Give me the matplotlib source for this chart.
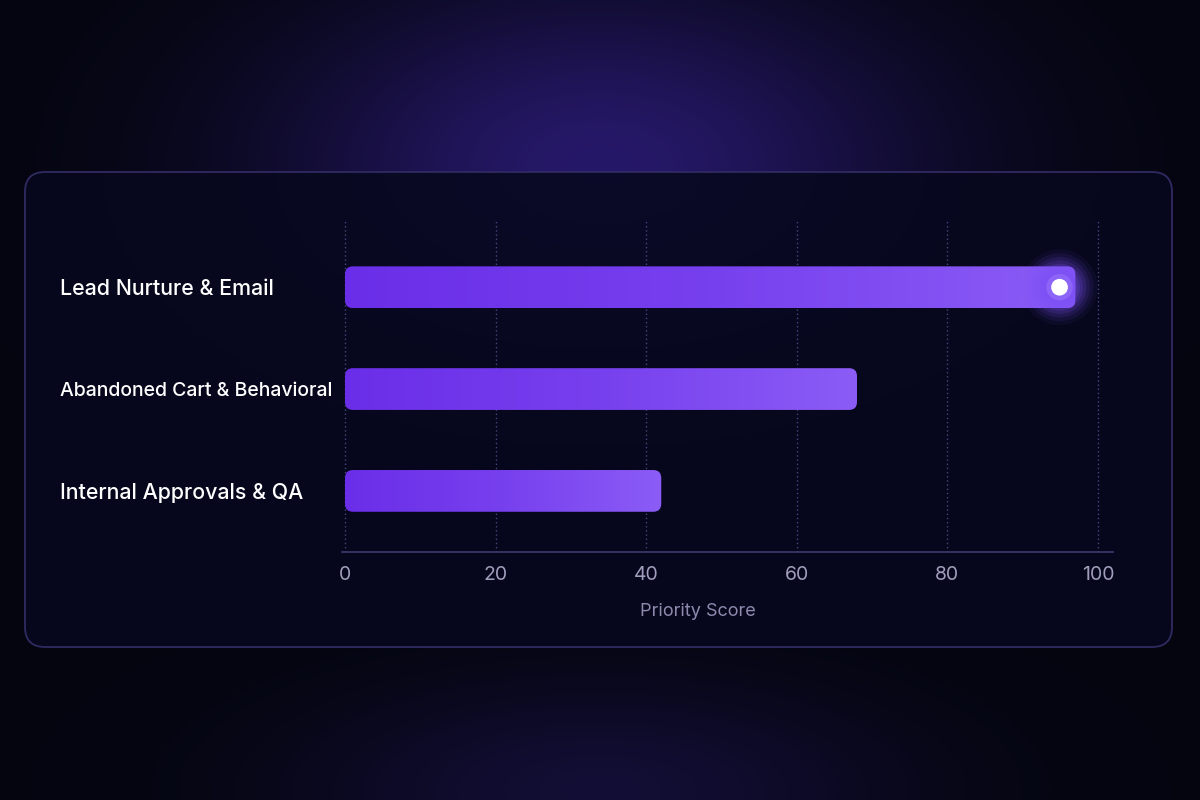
import numpy as np
import matplotlib
matplotlib.use("Agg")
import matplotlib.pyplot as plt
from matplotlib.patches import FancyBboxPatch
from matplotlib.colors import LinearSegmentedColormap

# ---- data ----
categories = ["Lead Nurture & Email", "Abandoned Cart & Behavioral", "Internal Approvals & QA"]
scores = [97, 68, 42]
x_ticks = [0, 20, 40, 60, 80, 100]
x_label = "Priority Score"
label_sizes = [15.4, 14.0, 15.4]

W, H = 1200, 800
fig = plt.figure(figsize=(12, 8), dpi=100)

# ---- background with glows ----
yy, xx = np.mgrid[0:H, 0:W].astype(float)
base = np.array([4, 5, 15]) / 255.0
img = np.ones((H, W, 3)) * base
g1 = np.exp(-(((xx - 600) / 320) ** 2 + ((yy - 165) / 180) ** 2))
c1 = np.array([38, 24, 104]) / 255.0
g2 = np.exp(-(((xx - 600) / 300) ** 2 + ((yy - 790) / 110) ** 2))
c2 = np.array([22, 16, 62]) / 255.0
img = img + (c1 - base) * g1[..., None] + (c2 - base) * g2[..., None] * 0.8
img = np.clip(img, 0, 1)

ax_bg = fig.add_axes([0, 0, 1, 1], zorder=-10)
ax_bg.imshow(img, extent=(0, W, H, 0), aspect="auto")
ax_bg.set_xlim(0, W)
ax_bg.set_ylim(H, 0)
ax_bg.axis("off")

panel = FancyBboxPatch((25, 172), 1147, 475,
                       boxstyle="round,pad=0,rounding_size=20",
                       facecolor=(7/255, 8/255, 30/255, 0.88),
                       edgecolor="#2f2b62", linewidth=1.3)
ax_bg.add_patch(panel)

# ---- main axes ----
ax_left, ax_right = 342 / W, 1113 / W
ax_top, ax_bot = 1 - 220 / H, 1 - 552 / H
ax = fig.add_axes([ax_left, ax_bot, ax_right - ax_left, ax_top - ax_bot])
ax.set_facecolor("none")

bar_h = 0.41
cmap = LinearSegmentedColormap.from_list("bar", ["#6a2ee8", "#7740ee", "#8b5cf6"])
grad = np.linspace(0, 1, 256).reshape(1, -1)
rx = 1.05
aspect = (8 / 102) / rx
for i, v in enumerate(scores):
    patch = FancyBboxPatch((0, i - bar_h / 2), v, bar_h,
                           boxstyle=f"round,pad=0,rounding_size={rx}",
                           mutation_aspect=aspect,
                           facecolor="none", edgecolor="none", zorder=3)
    ax.add_patch(patch)
    im = ax.imshow(grad, extent=(0, v, i + bar_h / 2, i - bar_h / 2),
                   cmap=cmap, aspect="auto", zorder=3, interpolation="bicubic")
    im.set_clip_path(patch)

# highlight glow at end of top bar
hx = scores[0] - 2.1
for s, a in [(3000, 0.06), (2400, 0.09), (1900, 0.12), (1500, 0.15), (1150, 0.18), (850, 0.22), (600, 0.25)]:
    ax.scatter([hx], [0], s=s, color="#7c4ff5", alpha=a, edgecolors="none", zorder=4)
ax.scatter([hx], [0], s=360, color="#a583ff", alpha=0.4, edgecolors="none", zorder=5)
ax.scatter([hx], [0], s=145, color="white", edgecolors="none", zorder=6)

ax.set_xlim(-0.4, 102)
ax.set_ylim(2.6, -0.66)

# grid
ax.set_xticks(x_ticks)
ax.set_xticklabels([str(t) for t in x_ticks], fontsize=14, color="#a09ebc", family="Inter")
ax.tick_params(axis="x", length=0, pad=10)
for t in x_ticks:
    ax.axvline(t, color="#46447e", linestyle=(0, (1, 2)), linewidth=1, zorder=1)

ax.set_yticks(range(len(categories)))
ax.set_yticklabels(categories, color="white", family="Inter",
                   fontweight="medium", ha="left")
for lbl, fs in zip(ax.get_yticklabels(), label_sizes):
    lbl.set_fontsize(fs)
ax.tick_params(axis="y", length=0, pad=(342 - 60) * 72 / 100)

for s in ["top", "right", "left"]:
    ax.spines[s].set_visible(False)
ax.spines["bottom"].set_color("#3d3a6e")
ax.spines["bottom"].set_linewidth(1.2)

fig.text(698 / W, 1 - 611 / H, x_label, ha="center", va="center",
         fontsize=13, color="#8d8aae", family="Inter")

fig.savefig("out.png", dpi=100)
